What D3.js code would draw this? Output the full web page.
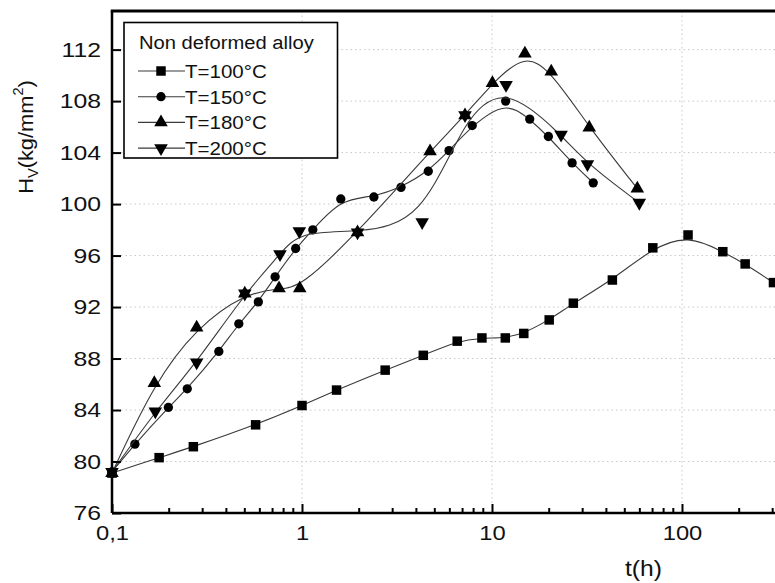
<!DOCTYPE html>
<html>
<head>
<meta charset="utf-8">
<script src="https://cdn.jsdelivr.net/npm/d3@7"></script>
<style>
  body { margin: 0; background: #fff; }
  svg { display: block; font-family: "Liberation Sans", Arial, sans-serif; }
</style>
</head>
<body>
<div id="chart"></div>
<script>
// Vickers hardness vs ageing time, non deformed alloy
const t100 = [0.1, 0.177, 0.268, 0.57, 1, 1.52, 2.74, 4.35, 6.56, 8.85, 11.75, 14.7, 20, 26.8, 43, 70.2, 107.6, 164, 215, 303];
const hv100 = [79.1, 80.3, 81.15, 82.85, 84.35, 85.55, 87.1, 88.25, 89.35, 89.6, 89.6, 89.95, 91.0, 92.3, 94.1, 96.6, 97.6, 96.3, 95.35, 93.9];

const t150 = [0.1, 0.132, 0.198, 0.249, 0.365, 0.465, 0.589, 0.722, 0.926, 1.14, 1.6, 2.39, 3.32, 4.62, 5.94, 7.87, 11.8, 15.8, 19.8, 26.4, 34.1];
const hv150 = [79.2, 81.35, 84.2, 85.65, 88.55, 90.7, 92.4, 94.35, 96.55, 98.0, 100.4, 100.55, 101.3, 102.55, 104.15, 106.1, 108.0, 106.6, 105.25, 103.2, 101.65];

const t180 = [0.1, 0.167, 0.279, 0.5, 0.757, 0.973, 1.96, 4.72, 7.21, 10.05, 14.9, 20.5, 32.5, 58.2];
const hv180 = [79.1, 86.1, 90.4, 93.05, 93.45, 93.45, 97.8, 104.1, 106.9, 109.4, 111.7, 110.3, 105.95, 101.2];

const t200 = [0.1, 0.169, 0.279, 0.5, 0.766, 0.968, 1.96, 4.29, 7.21, 11.85, 23.1, 31.8, 59.6];
const hv200 = [79.2, 83.9, 87.7, 93.05, 96.1, 97.9, 97.8, 98.6, 106.9, 109.25, 105.4, 103.1, 100.1];

const seriesNames = ["T=100°C", "T=150°C", "T=180°C", "T=200°C"];
const legendTitle = "Non deformed alloy";

const xMajor = [0.1, 1, 10, 100];
const xMajorLabels = ["0,1", "1", "10", "100"];
const yTicks = [76, 80, 84, 88, 92, 96, 100, 104, 108, 112];

const width = 775;
const height = 583;

// the reference type is a bit wider than Liberation Sans
function stretch(sel, k) {
  sel.each(function () {
    const w = this.getComputedTextLength();
    d3.select(this)
      .attr("textLength", w * k)
      .attr("lengthAdjust", "spacingAndGlyphs");
  });
}

const svg = d3.select("#chart")
  .append("svg")
  .attr("width", width)
  .attr("height", height)
  .style("background", "#ffffff");

const xScale = d3.scaleLog().domain([0.1, 1000]).range([112, 872]);
const yScale = d3.scaleLinear().domain([76, 115]).range([513, 11]);

const xMinor = [];
[0.1, 1, 10, 100].forEach(d => {
  for (let k = 2; k <= 9; k++) xMinor.push(d * k);
});

// grid
const grid = svg.append("g");
grid.selectAll("line.gy")
  .data(yTicks.slice(1))
  .enter().append("line")
  .attr("x1", xScale(0.1)).attr("x2", width)
  .attr("y1", d => yScale(d)).attr("y2", d => yScale(d))
  .attr("stroke", "#c8c8c8").attr("stroke-width", 1)
  .attr("stroke-dasharray", "1.5,3");
grid.selectAll("line.gx")
  .data(xMajor.slice(1))
  .enter().append("line")
  .attr("x1", d => xScale(d)).attr("x2", d => xScale(d))
  .attr("y1", yScale(115)).attr("y2", yScale(76))
  .attr("stroke", "#c8c8c8").attr("stroke-width", 1)
  .attr("stroke-dasharray", "1.5,3");

// series
const series = [
  { t: t100, hv: hv100, sym: d3.symbolSquare, size: 90, rot: 0 },
  { t: t150, hv: hv150, sym: d3.symbolCircle, size: 68, rot: 0 },
  { t: t180, hv: hv180, sym: d3.symbolTriangle, size: 80, rot: 0 },
  { t: t200, hv: hv200, sym: d3.symbolTriangle, size: 80, rot: 180 }
];

const line = d3.line()
  .x(d => xScale(d[0]))
  .y(d => yScale(d[1]))
  .curve(d3.curveBasis);

series.forEach(s => {
  const pts = s.t.map((t, i) => [t, s.hv[i]]);
  svg.append("path")
    .datum(pts)
    .attr("d", line)
    .attr("fill", "none")
    .attr("stroke", "#3a3a3a")
    .attr("stroke-width", 1.1);
  svg.append("g")
    .selectAll("path")
    .data(pts)
    .enter().append("path")
    .attr("d", d3.symbol().type(s.sym).size(s.size))
    .attr("transform", d => `translate(${xScale(d[0])},${yScale(d[1])}) rotate(${s.rot})`)
    .attr("fill", "#000");
});

// axes
const xAxis = d3.axisBottom(xScale)
  .tickValues(xMajor)
  .tickFormat((d, i) => xMajorLabels[i])
  .tickSize(-9)
  .tickSizeOuter(0)
  .tickPadding(12);

const gx = svg.append("g")
  .attr("transform", `translate(0, ${yScale(76)})`)
  .call(xAxis);
gx.select(".domain").attr("stroke-width", 2.5).attr("d", `M${xScale(0.1)},0H${width}`);
gx.selectAll(".tick line").attr("stroke-width", 2);
gx.selectAll(".tick text")
  .attr("font-size", 21)
  .attr("font-family", "Liberation Sans, Arial, sans-serif")
  .attr("fill", "#111")
  .call(stretch, 1.13);

svg.append("g")
  .selectAll("line")
  .data(xMinor)
  .enter().append("line")
  .attr("x1", d => xScale(d)).attr("x2", d => xScale(d))
  .attr("y1", yScale(76)).attr("y2", yScale(76) - 5)
  .attr("stroke", "#000").attr("stroke-width", 2);

const yAxis = d3.axisLeft(yScale)
  .tickValues(yTicks)
  .tickSize(-9)
  .tickSizeOuter(0)
  .tickPadding(11);

const gy = svg.append("g")
  .attr("transform", `translate(${xScale(0.1)}, 0)`)
  .call(yAxis);
gy.select(".domain").attr("stroke-width", 2.5).attr("d", `M0,${yScale(115)}V${yScale(76)}`);
gy.selectAll(".tick line").attr("stroke-width", 2);
gy.selectAll(".tick text")
  .attr("font-size", 21)
  .attr("font-family", "Liberation Sans, Arial, sans-serif")
  .attr("fill", "#111")
  .call(stretch, 1.18);

// top frame
svg.append("line")
  .attr("x1", xScale(0.1) - 1.25).attr("x2", width)
  .attr("y1", yScale(115)).attr("y2", yScale(115))
  .attr("stroke", "#000").attr("stroke-width", 3);

// axis titles
const yLabel = svg.append("text")
  .attr("transform", `translate(33, 137) rotate(-90)`)
  .attr("text-anchor", "middle")
  .attr("font-size", 21)
  .attr("fill", "#111");
yLabel.append("tspan").text("H");
yLabel.append("tspan").attr("font-size", 14).attr("dy", 5).text("V");
yLabel.append("tspan").attr("dy", -5).text("(kg/mm");
yLabel.append("tspan").attr("font-size", 14).attr("dy", -10).text("2");
yLabel.append("tspan").attr("dy", 10).text(")");
yLabel.call(stretch, 1.04);

svg.append("text")
  .attr("x", 643.5).attr("y", 576)
  .attr("text-anchor", "middle")
  .attr("font-size", 22)
  .attr("fill", "#111")
  .text("t(h)")
  .call(stretch, 1.12);

// legend
const legend = svg.append("g");
legend.append("rect")
  .attr("x", 124).attr("y", 22.5)
  .attr("width", 213.5).attr("height", 135.5)
  .attr("fill", "#fff")
  .attr("stroke", "#000").attr("stroke-width", 1.6);
legend.append("text")
  .attr("x", 139).attr("y", 48.5)
  .attr("font-size", 18)
  .attr("fill", "#111")
  .text(legendTitle)
  .call(stretch, 1.12);

seriesNames.forEach((name, i) => {
  const y = 71 + i * 25.7;
  legend.append("line")
    .attr("x1", 138).attr("x2", 185)
    .attr("y1", y).attr("y2", y)
    .attr("stroke", "#3a3a3a").attr("stroke-width", 1.1);
  legend.append("path")
    .attr("d", d3.symbol().type(series[i].sym).size(series[i].size))
    .attr("transform", `translate(161,${y}) rotate(${series[i].rot})`)
    .attr("fill", "#000");
  legend.append("text")
    .attr("x", 185).attr("y", y + 7)
    .attr("font-size", 19)
    .attr("fill", "#111")
    .text(name)
    .call(stretch, 1.08);
});
</script>
</body>
</html>
